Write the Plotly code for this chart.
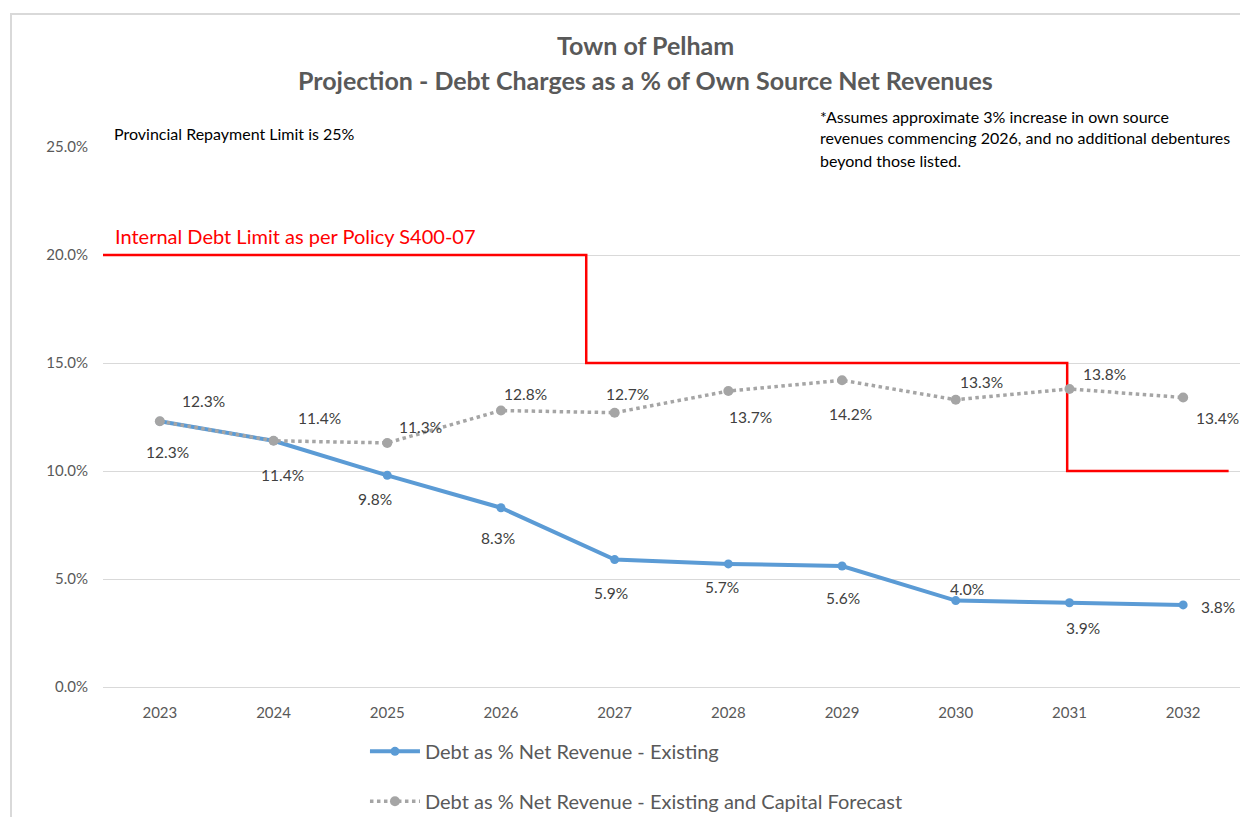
import plotly.graph_objects as go

years = ["2023", "2024", "2025", "2026", "2027", "2028", "2029", "2030", "2031", "2032"]
existing = [12.3, 11.4, 9.8, 8.3, 5.9, 5.7, 5.6, 4.0, 3.9, 3.8]
forecast = [12.3, 11.4, 11.3, 12.8, 12.7, 13.7, 14.2, 13.3, 13.8, 13.4]
# Internal debt limit (policy S400-07) step line: x in category-index units
limit_x = [-0.5, 3.75, 3.75, 7.98, 7.98, 9.4]
limit_y = [20, 20, 15, 15, 10, 10]
y_ticks = [0, 5, 10, 15, 20, 25]

# label pixel offsets (style only): (dx right, dy down)
ex_off = [(8, 31), (9, 34), (-12, 24), (-3, 30), (-4, 33), (-6, 23), (1, 32), (11, -12), (14, 25), (35, 2)]
fc_off = [(44, -20), (46, -23), (33, -16), (25, -17), (13, -19), (22, 26), (8, 34), (26, -18), (35, -15), (34, 20)]

FONT = "Lato"
xs = list(range(len(years)))

fig = go.Figure()
fig.add_trace(go.Scatter(
    x=limit_x, y=limit_y, mode="lines", line=dict(color="#FF0000", width=2.5),
    showlegend=False, hoverinfo="skip"))
fig.add_trace(go.Scatter(
    x=xs, y=existing, mode="lines+markers", name="Debt as % Net Revenue - Existing",
    line=dict(color="#5B9BD5", width=4), marker=dict(size=9, color="#5B9BD5"),
    legendgroup="a"))
fig.add_trace(go.Scatter(
    x=xs, y=forecast, mode="lines+markers", name="Debt as % Net Revenue - Existing and Capital Forecast",
    line=dict(color="#A5A5A5", width=3.5, dash="dot"), marker=dict(size=10, color="#A5A5A5"),
    legendgroup="b"))

lab_font = dict(family=FONT, size=15.5, color="#404040")
annotations = []
for i, (v, (dx, dy)) in enumerate(zip(existing, ex_off)):
    annotations.append(dict(x=i, y=v, xref="x", yref="y", text=f"{v:.1f}%", showarrow=False,
                            xanchor="center", yanchor="middle",
                            xshift=dx, yshift=-dy, font=lab_font))
for i, (v, (dx, dy)) in enumerate(zip(forecast, fc_off)):
    annotations.append(dict(x=i, y=v, xref="x", yref="y", text=f"{v:.1f}%", showarrow=False,
                            xanchor="center", yanchor="middle",
                            xshift=dx, yshift=-dy, font=lab_font))

# titles and notes
annotations.append(dict(x=0.4767, y=1.1889, xref="paper", yref="paper", text="<b>Town of Pelham</b>",
                        xanchor="center", yanchor="middle",
                        showarrow=False, font=dict(family=FONT, size=25, color="#595959")))
annotations.append(dict(x=0.4767, y=1.1241, xref="paper", yref="paper",
                        text="<b>Projection - Debt Charges as a % of Own Source Net Revenues</b>",
                        xanchor="center", yanchor="middle",
                        showarrow=False, font=dict(family=FONT, size=25, color="#595959")))
annotations.append(dict(x=0.0079, y=1.0259, xref="paper", yref="paper", xanchor="left", yanchor="middle",
                        text="Provincial Repayment Limit is 25%", showarrow=False,
                        font=dict(family=FONT, size=16, color="#000000")))
for txt, yy in [("*Assumes approximate 3% increase in own source", 1.0574),
                ("revenues commencing 2026, and no additional debentures", 1.0167),
                ("beyond those listed.", 0.9759)]:
    annotations.append(dict(x=0.6289, y=yy, xref="paper", yref="paper", xanchor="left", yanchor="middle",
                            text=txt, showarrow=False, font=dict(family=FONT, size=16, color="#000000")))
annotations.append(dict(x=0.0088, y=0.8352, xref="paper", yref="paper", xanchor="left", yanchor="middle",
                        text="Internal Debt Limit as per Policy S400-07", showarrow=False,
                        font=dict(family=FONT, size=20, color="#FF0000")))

# page body has an 8px margin: figure is sized/shifted to compensate
fig.update_layout(
    width=1232, height=809,
    margin=dict(l=95, r=0, t=139, b=130, autoexpand=False),
    paper_bgcolor="white", plot_bgcolor="white",
    font=dict(family=FONT, color="#595959"),
    annotations=annotations,
    showlegend=True,
    legend=dict(x=0.2304, y=-0.083, xanchor="left", yanchor="top", orientation="v",
                traceorder="grouped", tracegroupgap=21,
                font=dict(family=FONT, size=20, color="#595959"), itemwidth=50),
    shapes=[dict(type="rect", xref="paper", yref="paper", x0=-0.0809, x1=1.2, y0=-0.5, y1=1.2463,
                 line=dict(color="#D9D9D9", width=2), layer="below")],
)
fig.update_xaxes(range=[-0.5, 9.5], tickvals=xs, ticktext=years, showgrid=False,
                 showline=True, linecolor="#D9D9D9", linewidth=1, zeroline=False,
                 tickfont=dict(family=FONT, size=15, color="#595959"), ticklabelstandoff=12)
fig.update_yaxes(range=[0, 25], tickvals=y_ticks, ticktext=[f"{t:.1f}%" for t in y_ticks],
                 showgrid=True, gridcolor="#D9D9D9", gridwidth=1, zeroline=False,
                 tickfont=dict(family=FONT, size=15, color="#595959"), ticklabelstandoff=14)

fig.write_html("out.html")
